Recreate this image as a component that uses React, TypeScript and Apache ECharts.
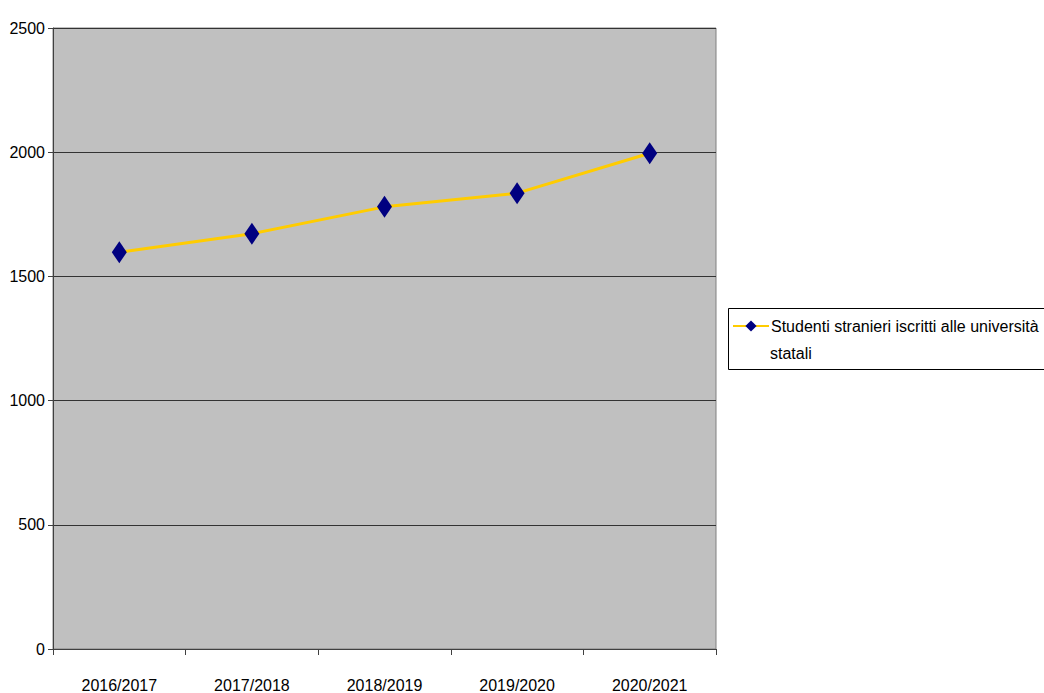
import React, { useEffect, useRef } from "react";
import * as echarts from "echarts";

// Anni accademici e iscritti stranieri
const categories = ["2016/2017", "2017/2018", "2018/2019", "2019/2020", "2020/2021"];
const iscritti = [1597, 1672, 1780, 1835, 1996];
const seriesName = "Studenti stranieri iscritti alle università";
const seriesNameTail = "statali";

const FONT = "'Liberation Sans', Arial, sans-serif";

export default function App() {
  const ref = useRef<HTMLDivElement>(null);

  useEffect(() => {
    if (!ref.current) return;
    const chart = echarts.init(ref.current, null, { renderer: "svg" });
    chart.setOption({
      animation: false,
      backgroundColor: "#ffffff",
      textStyle: { fontFamily: FONT },
      grid: {
        left: 53,
        top: 28,
        width: 663,
        height: 621,
        show: true,
        backgroundColor: "#C0C0C0",
        borderColor: "#808080",
        borderWidth: 1,
      },
      xAxis: {
        type: "category",
        data: categories,
        boundaryGap: true,
        axisLine: { lineStyle: { color: "#404040", width: 1 } },
        axisTick: { show: true, length: 6, inside: false, lineStyle: { color: "#404040" } },
        axisLabel: { color: "#000", fontSize: 16, fontFamily: FONT, margin: 28 },
        splitLine: { show: false },
      },
      yAxis: {
        type: "value",
        min: 0,
        max: 2500,
        interval: 500,
        axisLine: { show: true, lineStyle: { color: "#404040", width: 1 } },
        axisTick: { show: true, length: 5, lineStyle: { color: "#404040" } },
        axisLabel: {
          color: "#000",
          fontSize: 16,
          fontFamily: FONT,
          margin: 8,
          formatter: (v: number) => String(v),
        },
        splitLine: { show: true, lineStyle: { color: "#333333", width: 1 } },
      },
      legend: {
        show: true,
        left: 732,
        top: 318,
        padding: 0,
        itemWidth: 36,
        itemHeight: 14,
        itemGap: 0,
        data: [seriesName],
        textStyle: { color: "#000", fontSize: 16, fontFamily: FONT, padding: [0, 0, 0, -3] },
      },
      graphic: [
        {
          type: "rect",
          shape: { x: 728.5, y: 308.5, width: 320, height: 61 },
          style: { fill: "none", stroke: "#000", lineWidth: 1 },
          silent: true,
        },
        {
          type: "text",
          x: 770,
          y: 345,
          style: { text: seriesNameTail, fill: "#000", fontSize: 16, fontFamily: FONT },
          silent: true,
        },
      ],
      series: [
        {
          name: seriesName,
          type: "line",
          data: iscritti,
          symbol: "diamond",
          symbolSize: [15, 22],
          itemStyle: { color: "#000080" },
          lineStyle: { color: "#FFCC00", width: 3 },
          z: 3,
        },
      ],
    });
    return () => chart.dispose();
  }, []);

  return (
    <div
      ref={ref}
      style={{ position: "fixed", left: 0, top: 0, width: 1044, height: 693 }}
    />
  );
}
